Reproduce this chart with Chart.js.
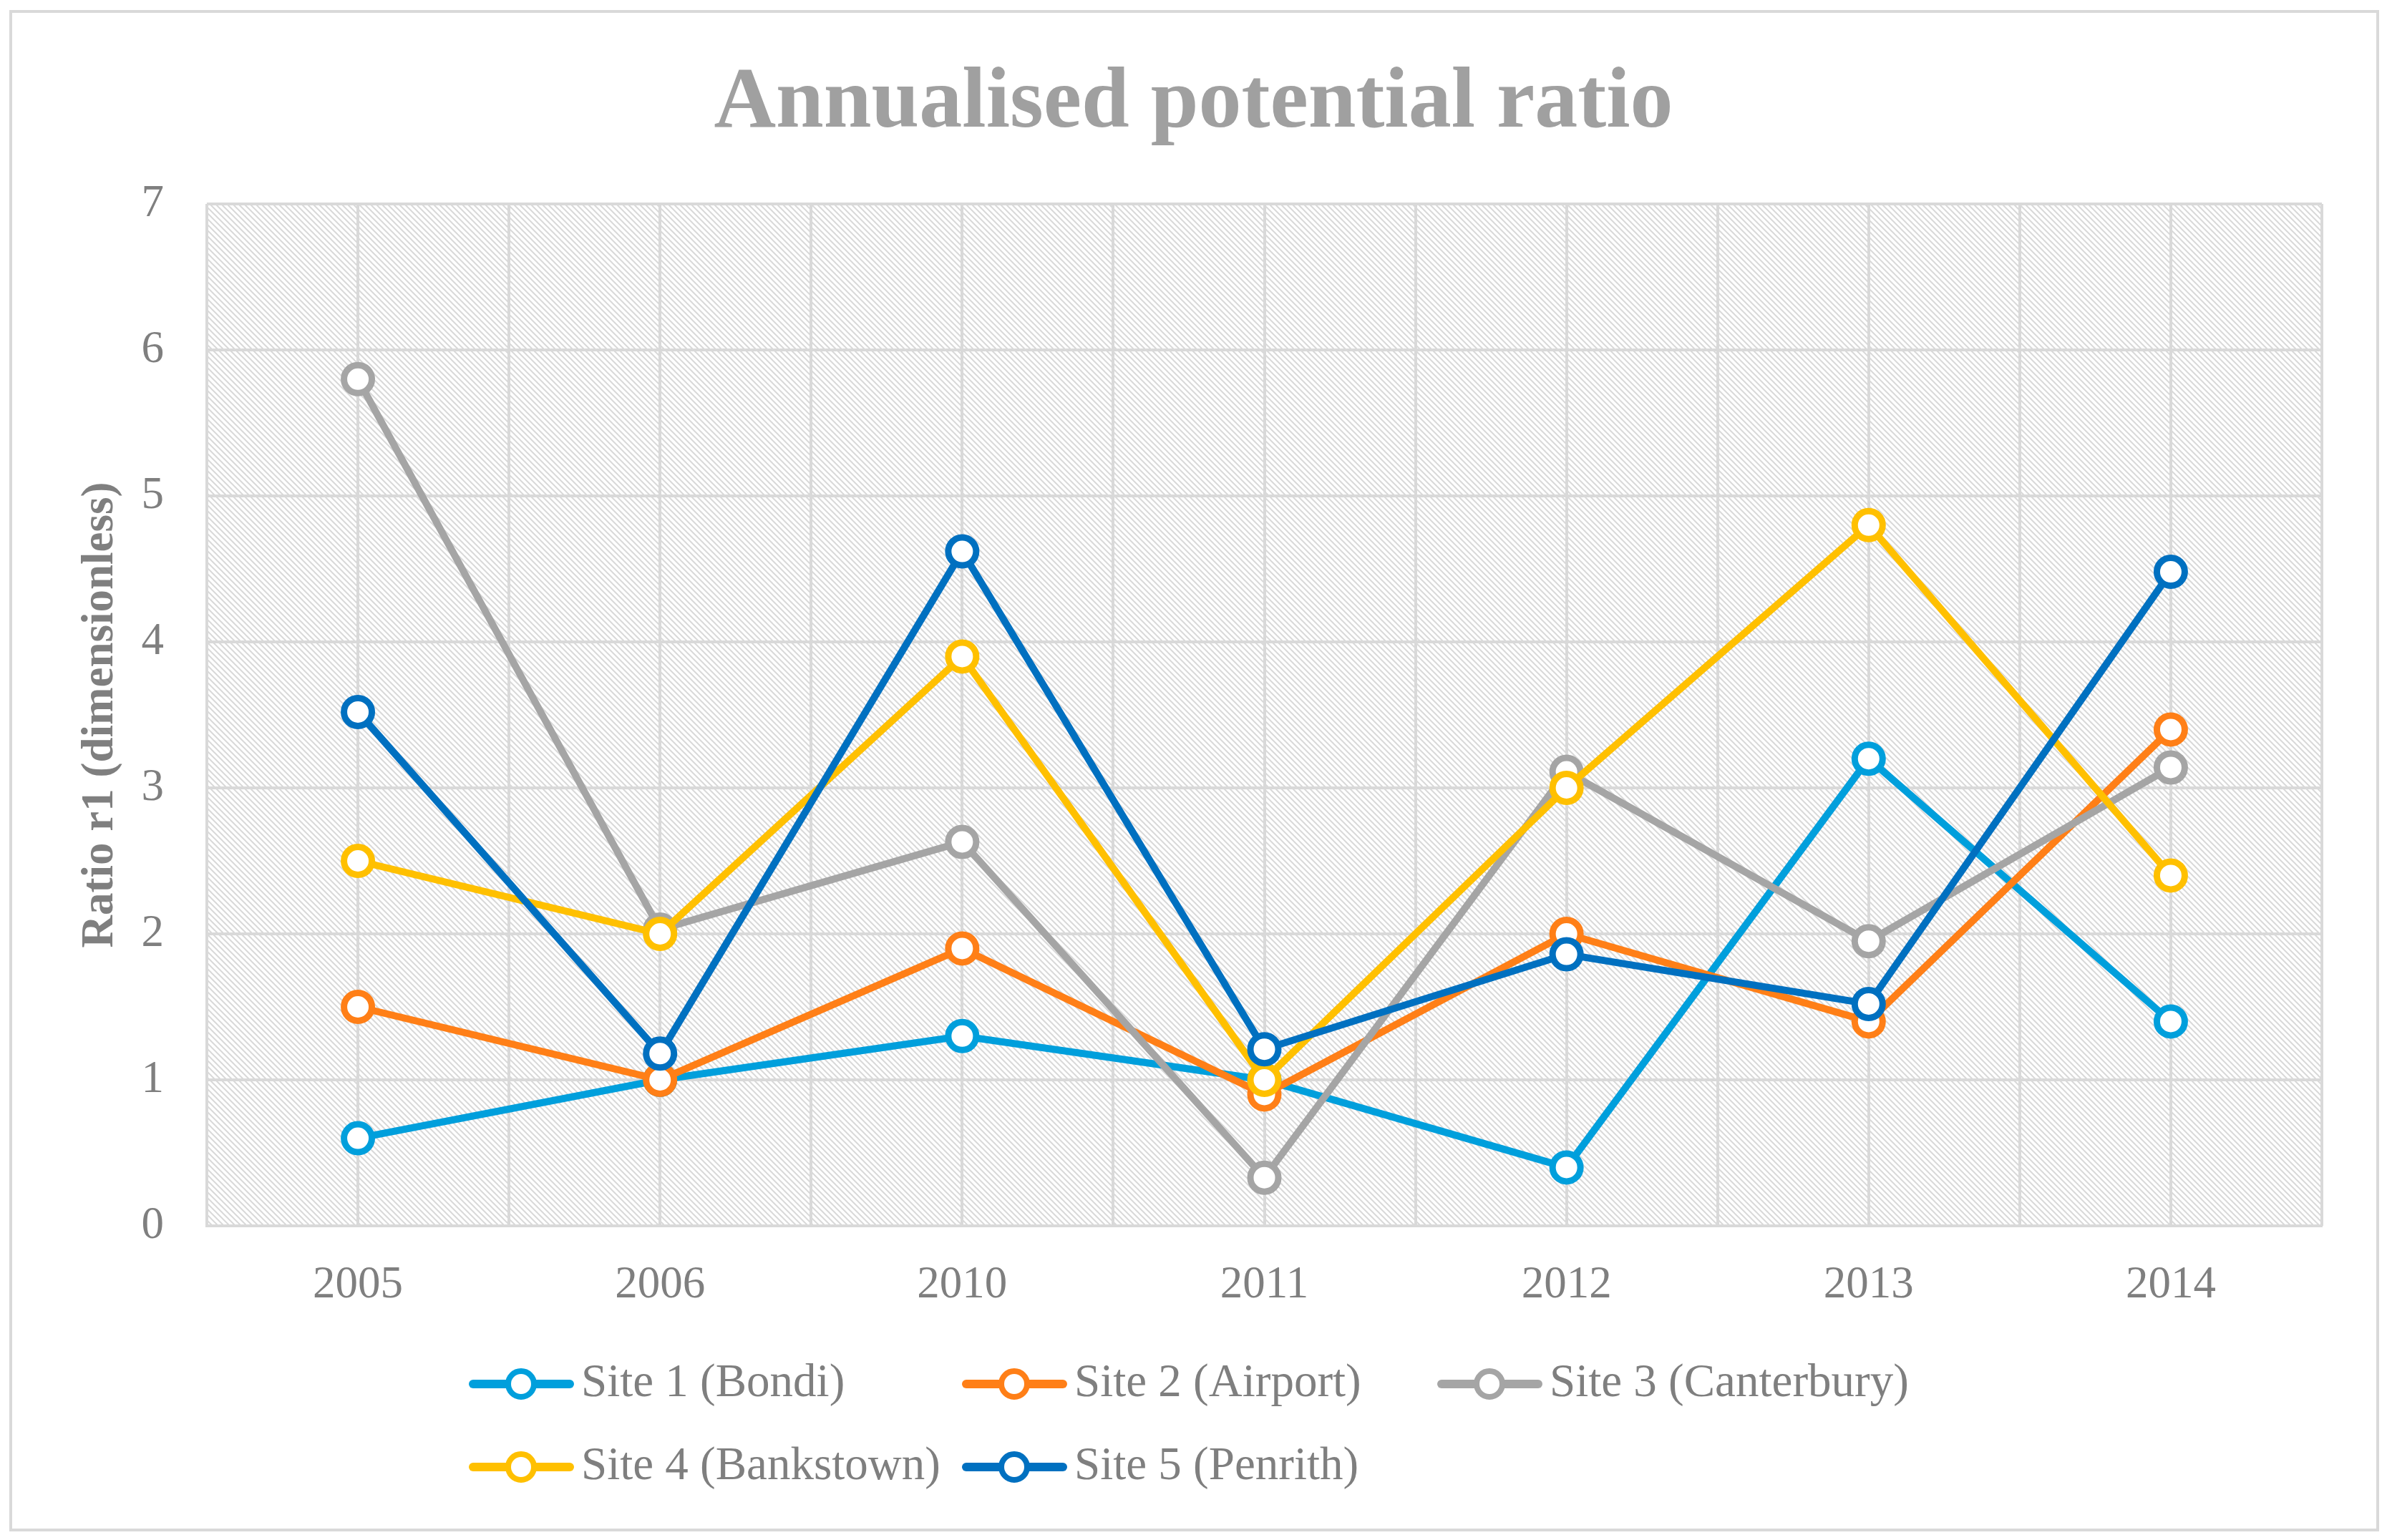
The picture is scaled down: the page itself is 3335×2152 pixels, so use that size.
<!DOCTYPE html>
<html>
<head>
<meta charset="utf-8">
<script src="https://cdn.jsdelivr.net/npm/chart.js@4.4.1/dist/chart.umd.min.js"></script>
<style>
  html, body { margin: 0; padding: 0; background: #ffffff; }
  canvas { display: block; }
</style>
</head>
<body>
<canvas id="c" width="3335" height="2152"></canvas>
<script>
const categories = ['2005', '2006', '2010', '2011', '2012', '2013', '2014'];
const seriesNames = ['Site 1 (Bondi)', 'Site 2 (Airport)', 'Site 3 (Canterbury)', 'Site 4 (Bankstown)', 'Site 5 (Penrith)'];
const site1 = [0.6, 1.0, 1.3, 1.0, 0.4, 3.2, 1.4];
const site2 = [1.5, 1.0, 1.9, 0.9, 2.0, 1.4, 3.4];
const site3 = [5.8, 2.03, 2.63, 0.33, 3.11, 1.95, 3.14];
const site4 = [2.5, 2.0, 3.9, 1.0, 3.0, 4.8, 2.4];
const site5 = [3.52, 1.18, 4.62, 1.21, 1.86, 1.52, 4.48];
const seriesColors = ['#009fdc', '#ff7f17', '#a5a5a5', '#ffc000', '#0070c0'];
const yMin = 0, yMax = 7, yStep = 1;
const chartTitle = 'Annualised potential ratio';
const yTitle = 'Ratio r1 (dimensionless)';

const FONT = "'Liberation Serif', 'Times New Roman', serif";
const GRID = '#d9d9d9';
const TEXT = '#7f7f7f';

const allSeries = [site1, site2, site3, site4, site5];
const datasets = allSeries.map((vals, i) => ({
  label: seriesNames[i],
  data: vals,
  borderColor: seriesColors[i],
  backgroundColor: seriesColors[i],
  borderWidth: 10,
  pointRadius: 19.5,
  pointHoverRadius: 19.5,
  pointBorderWidth: 9,
  pointBackgroundColor: '#ffffff',
  pointBorderColor: seriesColors[i],
  tension: 0,
  fill: false,
  order: allSeries.length - 1 - i
}));

function makePattern(ctx) {
  const t = document.createElement('canvas');
  t.width = 8; t.height = 8;
  const c = t.getContext('2d');
  c.fillStyle = '#ffffff';
  c.fillRect(0, 0, 8, 8);
  c.strokeStyle = GRID;
  c.lineWidth = 2.0;
  for (const off of [-8, 0, 8]) {
    c.beginPath();
    c.moveTo(-2, off - 2);
    c.lineTo(10, off + 10);
    c.stroke();
  }
  return ctx.createPattern(t, 'repeat');
}

const backgroundPlugin = {
  id: 'bgPlugin',
  beforeDraw(chart) {
    const ctx = chart.ctx;
    const a = chart.chartArea;
    ctx.save();
    ctx.fillStyle = '#ffffff';
    ctx.fillRect(0, 0, chart.width, chart.height);
    ctx.strokeStyle = GRID;
    ctx.lineWidth = 4;
    ctx.strokeRect(15, 16, chart.width - 15 - 13, chart.height - 16 - 14);
    ctx.fillStyle = makePattern(ctx);
    ctx.fillRect(a.left, a.top, a.right - a.left, a.bottom - a.top);
    ctx.restore();
  }
};

const legendPlugin = {
  id: 'excelLegend',
  afterDraw(chart) {
    const ctx = chart.ctx;
    const cols = [655, 1344, 2008];
    const rows = [1934, 2050];
    ctx.save();
    chart.data.datasets.forEach((ds, i) => {
      const x = cols[i % 3];
      const y = rows[Math.floor(i / 3)];
      ctx.strokeStyle = ds.borderColor;
      ctx.lineWidth = 12;
      ctx.lineCap = 'round';
      ctx.beginPath();
      ctx.moveTo(x + 6, y);
      ctx.lineTo(x + 141, y);
      ctx.stroke();
      ctx.beginPath();
      ctx.arc(x + 73, y, 18, 0, Math.PI * 2);
      ctx.fillStyle = '#ffffff';
      ctx.fill();
      ctx.lineWidth = 8;
      ctx.stroke();
      ctx.fillStyle = TEXT;
      ctx.font = '65px ' + FONT;
      ctx.textAlign = 'left';
      ctx.textBaseline = 'middle';
      ctx.fillText(ds.label, x + 157, y);
    });
    ctx.restore();
  }
};

new Chart(document.getElementById('c'), {
  type: 'line',
  data: { labels: categories, datasets: datasets },
  plugins: [backgroundPlugin, legendPlugin],
  options: {
    responsive: false,
    devicePixelRatio: 1,
    animation: false,
    layout: { padding: { left: 91, right: 91, top: 20, bottom: 289 } },
    plugins: {
      legend: { display: false },
      tooltip: { enabled: false },
      title: {
        display: true,
        text: chartTitle,
        color: '#a0a0a0',
        font: { family: FONT, size: 120, weight: 'bold', lineHeight: 1.2 },
        padding: { top: 54, bottom: 67 }
      }
    },
    scales: {
      x: {
        type: 'category',
        position: 'bottom',
        offset: true,
        grid: { display: false, drawTicks: false },
        border: { display: true, color: GRID, width: 4 },
        ticks: { color: TEXT, font: { family: FONT, size: 63 }, padding: 46, maxRotation: 0, autoSkip: false },
        afterFit(scale) { scale.height = 150; }
      },
      xg: {
        type: 'linear',
        position: 'bottom',
        min: -0.5,
        max: 6.5,
        ticks: { display: false, stepSize: 0.5 },
        grid: { display: true, color: GRID, lineWidth: 4, drawTicks: false },
        border: { display: false },
        afterFit(scale) { scale.height = 0; }
      },
      y: {
        min: yMin,
        max: yMax,
        ticks: { stepSize: yStep, color: TEXT, font: { family: FONT, size: 63 }, padding: 60 },
        grid: { color: GRID, lineWidth: 4, drawTicks: false },
        border: { display: false },
        title: {
          display: true,
          text: yTitle,
          color: TEXT,
          font: { family: FONT, size: 63, weight: 'bold', lineHeight: 1.2 },
          padding: { top: 12, bottom: 0 }
        },
        afterFit(scale) { scale.width = 198; }
      }
    }
  }
});
</script>
</body>
</html>
